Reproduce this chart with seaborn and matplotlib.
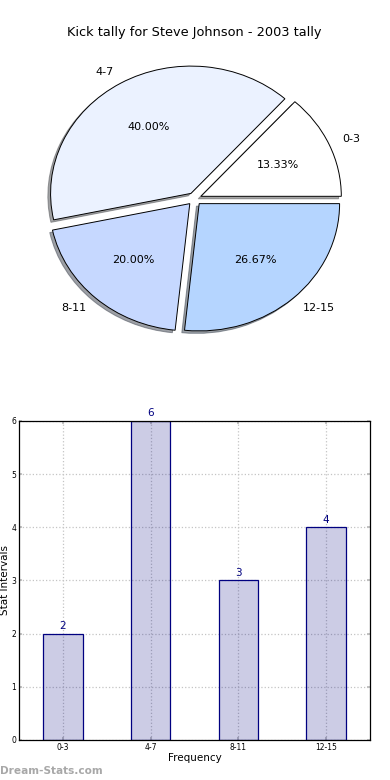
import matplotlib
matplotlib.use("Agg")
import matplotlib.pyplot as plt
import seaborn as sns
import pandas as pd

# dados do gráfico
categorias = ["0-3", "4-7", "8-11", "12-15"]
chutes = [2, 6, 3, 4]
cores_pizza = ["#FFFFFF", "#EBF2FF", "#C6D8FF", "#B5D5FF"]
titulo = "Kick tally for Steve Johnson - 2003 tally"

sns.set_theme(style="white")
plt.rcParams["font.family"] = ["DejaVu Sans"]
plt.rcParams["text.color"] = "black"
plt.rcParams["axes.labelcolor"] = "black"
plt.rcParams["xtick.labelcolor"] = "black"
plt.rcParams["ytick.labelcolor"] = "black"

fig = plt.figure(figsize=(3.9, 7.8), dpi=100)

# Gráfico 1: pizza
ax1 = fig.add_axes([0.0487, 0.541, 0.9, 0.408])
ax1.pie(
    chutes,
    labels=categorias,
    colors=cores_pizza,
    explode=[0.05] * len(chutes),
    autopct="%.2f%%",
    shadow={"ox": -0.014, "oy": -0.014},
    startangle=0,
    wedgeprops={"edgecolor": "black", "linewidth": 0.7},
    textprops={"fontsize": 8, "color": "black"},
)
ax1.set_aspect("auto")
ax1.set_xlim(-1.25, 1.25)
ax1.set_ylim(-1.25, 1.25)
ax1.set_title(titulo, fontsize=9.3, pad=3, color="black")

# Gráfico 2: barras
ax2 = fig.add_axes([0.0487, 0.0513, 0.9, 0.409])
df = pd.DataFrame({"faixa": categorias, "total": chutes})
sns.barplot(
    data=df, x="faixa", y="total", ax=ax2,
    color="#000080", edgecolor="#000080", linewidth=0.9,
    width=0.45, saturation=1, errorbar=None,
)
for p in ax2.patches:
    p.set_facecolor((0, 0, 0.5, 0.2))
for c in ax2.containers:
    ax2.bar_label(c, color="#000080", fontsize=7.5, padding=2)
ax2.set_xlim(-0.5, 3.5)
ax2.set_ylim(0, 6)
ax2.set_yticks(range(0, 7))
ax2.set_axisbelow(True)
ax2.grid(True, linestyle=":", color="#C4C4C4", linewidth=0.9)
ax2.tick_params(axis="both", labelsize=5.5, direction="in", length=2,
                top=True, right=True, bottom=True, left=True, pad=2, color="#BBBBBB")
ax2.set_xlabel("Frequency", fontsize=7.5, labelpad=1)
ax2.set_ylabel("Stat Intervals", fontsize=7.5, labelpad=1)
for s in ax2.spines.values():
    s.set_color("black")
    s.set_linewidth(0.9)
    s.set_zorder(5)

fig.text(0.0, 0.005, "Dream-Stats.com", color="#A8A8A8", fontsize=7.6,
         fontweight="bold", ha="left", va="bottom")

fig.savefig("out.png", dpi=100)
